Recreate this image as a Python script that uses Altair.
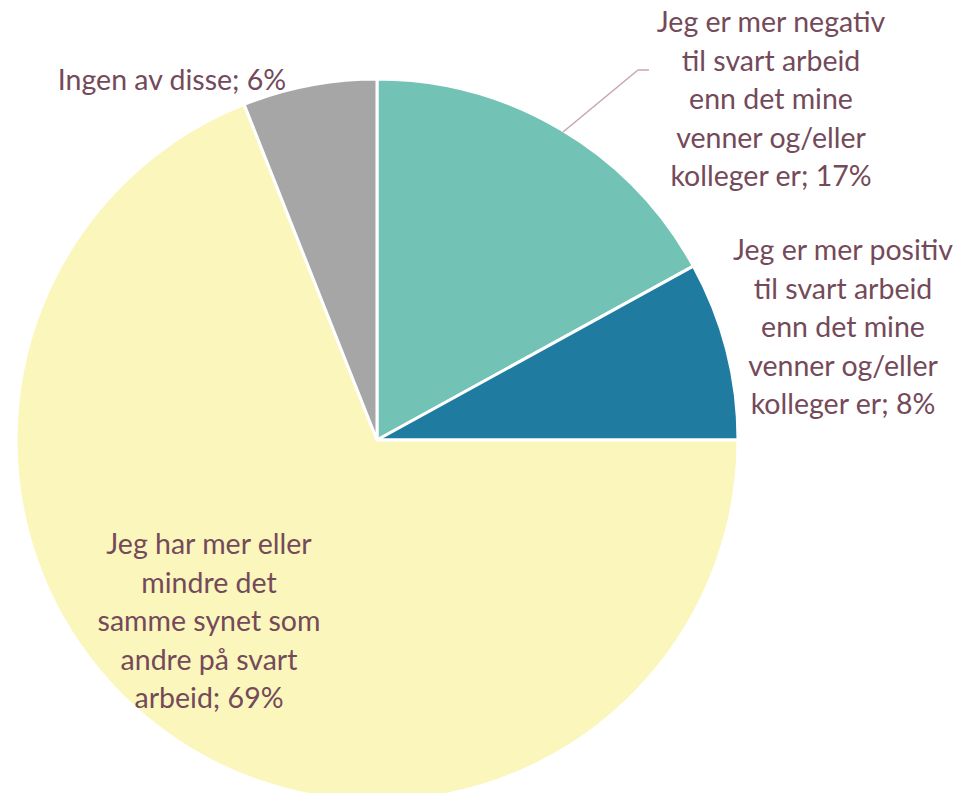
import altair as alt
import pandas as pd

categories = [
    "Jeg er mer negativ til svart arbeid enn det mine venner og/eller kolleger er",
    "Jeg er mer positiv til svart arbeid enn det mine venner og/eller kolleger er",
    "Jeg har mer eller mindre det samme synet som andre på svart arbeid",
    "Ingen av disse",
]
values = [17, 8, 69, 6]
colors = ["#72C3B5", "#1F7BA0", "#FBF6BC", "#A6A6A6"]
label_lines = [
    ["Jeg er mer negativ", "til svart arbeid", "enn det mine", "venner og/eller", "kolleger er; 17%"],
    ["Jeg er mer positiv", "til svart arbeid", "enn det mine", "venner og/eller", "kolleger er; 8%"],
    ["Jeg har mer eller", "mindre det", "samme synet som", "andre på svart", "arbeid; 69%"],
    ["Ingen av disse; 6%"],
]

df = pd.DataFrame({"kategori": categories, "andel": values, "rekkefolge": list(range(len(values)))})

TOP = 10
W, H = 945, 785 - TOP
CX, CY, R = 369, 432 - TOP, 361
TEXT_COLOR = "#744A5A"

pie = alt.Chart(df).mark_arc(outerRadius=R, stroke="white", strokeWidth=3).encode(
    theta=alt.Theta("andel:Q", stack=True),
    order=alt.Order("rekkefolge:Q"),
    color=alt.Color("kategori:N", scale=alt.Scale(domain=categories, range=colors), legend=None),
    x=alt.value(CX),
    y=alt.value(CY),
)

label_pos = [(763, 24), (835, 252), (201, 546), (164, 82)]
layers = [pie]
for i, lines in enumerate(label_lines):
    lx, ly = label_pos[i]
    tdf = pd.DataFrame({"tekst": ["\n".join(lines)]})
    layers.append(
        alt.Chart(tdf).mark_text(
            align="center", baseline="alphabetic", font="Lato", fontSize=28.5,
            lineBreak="\n", lineHeight=38.5, color=TEXT_COLOR,
        ).encode(text="tekst:N", x=alt.value(lx), y=alt.value(ly - TOP))
    )

leader_df = pd.DataFrame({"k": [0]})
leader1 = alt.Chart(leader_df).mark_rule(color="#C8A5B0", strokeWidth=1.5).encode(
    x=alt.value(555), y=alt.value(124 - TOP), x2=alt.value(630), y2=alt.value(62 - TOP)
)
leader2 = alt.Chart(leader_df).mark_rule(color="#C8A5B0", strokeWidth=1.5).encode(
    x=alt.value(630), y=alt.value(62 - TOP), x2=alt.value(641), y2=alt.value(62 - TOP)
)
layers += [leader1, leader2]

chart = alt.layer(*layers).properties(
    width=W, height=H,
    padding={"top": TOP, "left": 0, "right": 0, "bottom": 0},
    autosize=alt.AutoSizeParams(type="none"),
).configure_view(stroke=None)

chart.save("out.html", embed_options={"renderer": "svg", "actions": False})
